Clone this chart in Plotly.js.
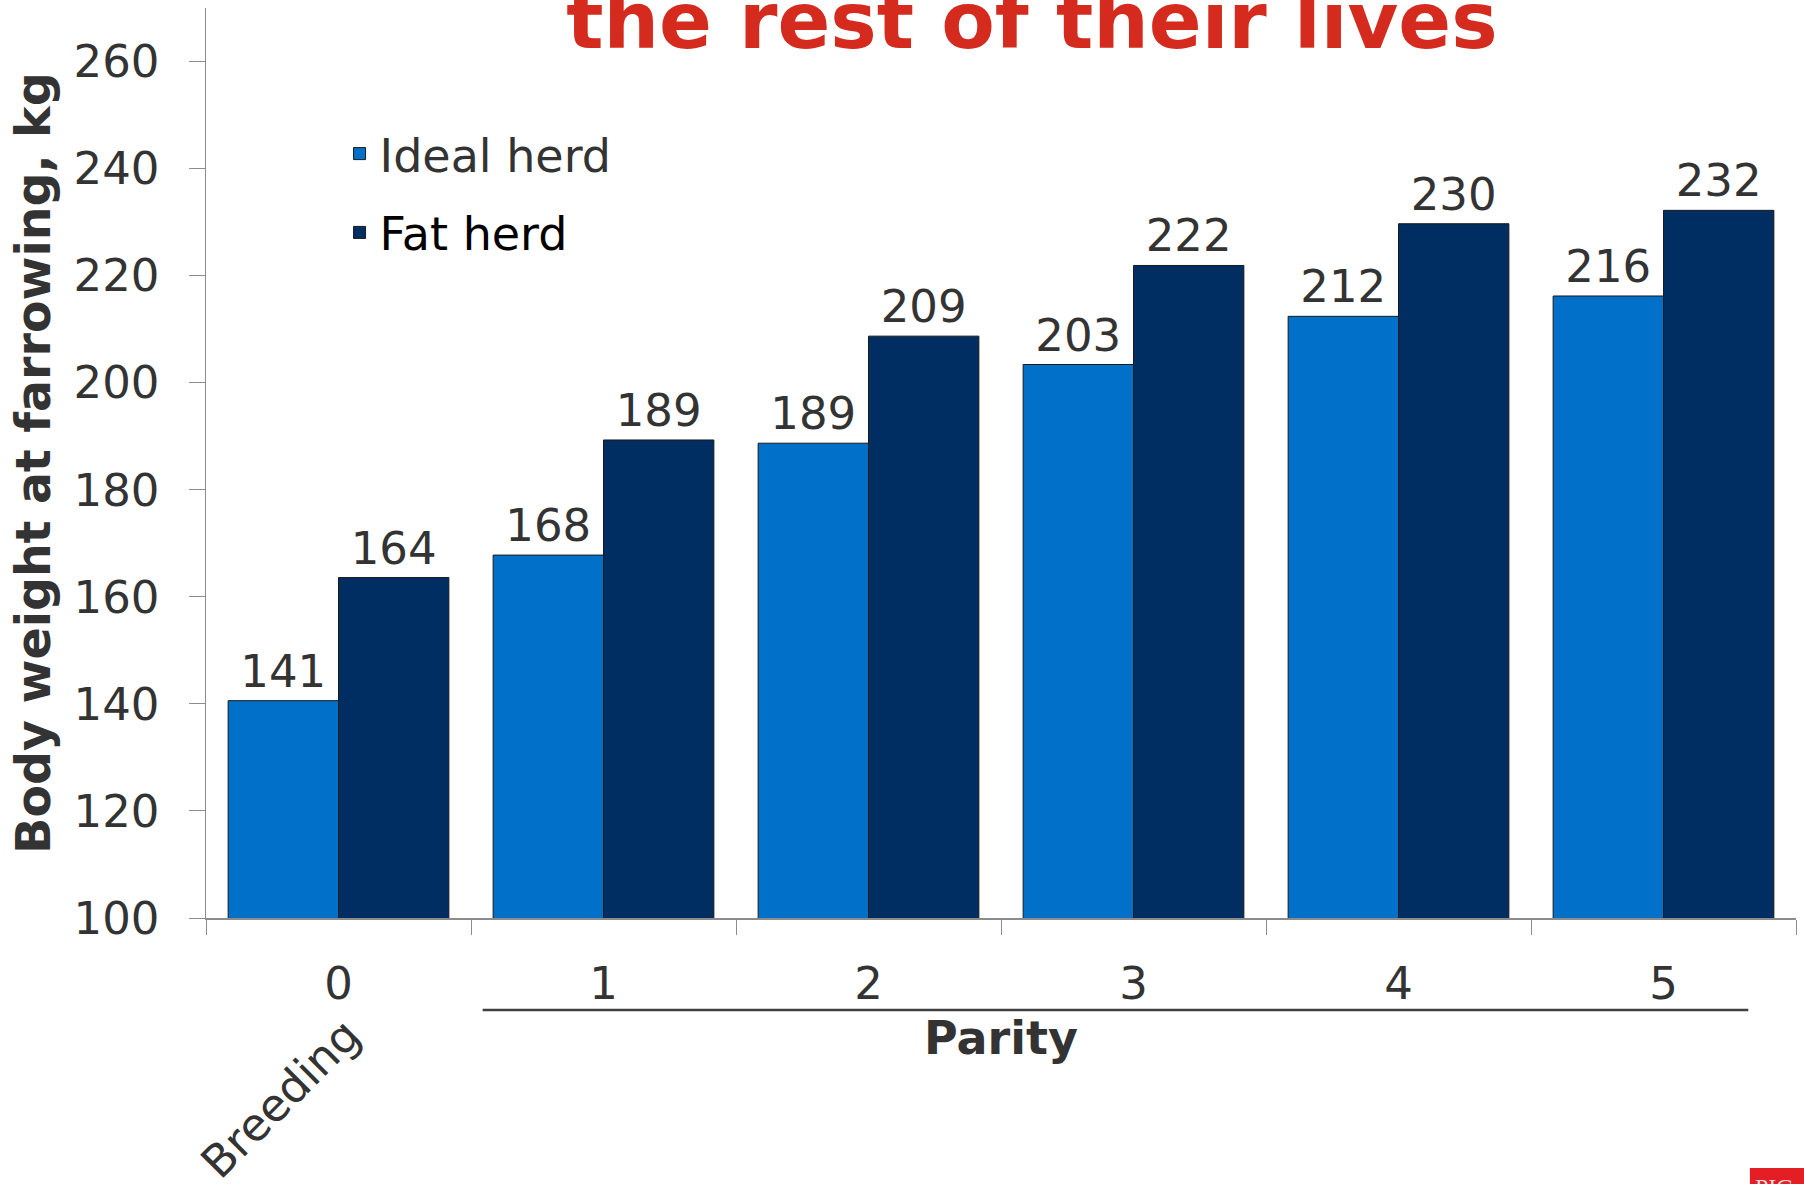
<!DOCTYPE html>
<html>
<head>
<meta charset="utf-8">
<script src="https://cdn.plot.ly/plotly-3.0.1.min.js"></script>
<style>html,body{margin:0;padding:0;background:#fff;}#chart{width:1804px;height:1184px;}</style>
</head>
<body>
<div id="chart"></div>
<script>
const parity = ["0", "1", "2", "3", "4", "5"];
const idealHerd = [140.6, 167.8, 188.7, 203.4, 212.4, 216.2];
const fatHerd = [163.6, 189.3, 208.7, 221.9, 229.7, 232.2];
const seriesNames = ["Ideal herd", "Fat herd"];
const yTicks = [100, 120, 140, 160, 180, 200, 220, 240, 260];

const FONT = "DejaVu Sans, Verdana, sans-serif";

const traces = [
  {
    type: "bar", x: parity, y: idealHerd, name: seriesNames[0], legendgroup: "a",
    marker: {color: "#0070C8", line: {color: "#1a1a1a", width: 1}},
    text: idealHerd.map(v => String(Math.round(v))), textposition: "outside",
    textfont: {family: FONT, size: 45, color: "#333333"}, cliponaxis: false,
    hoverinfo: "x+y+name"
  },
  {
    type: "bar", x: parity, y: fatHerd, name: '<span style="fill:#000">' + seriesNames[1] + '</span>', legendgroup: "b",
    marker: {color: "#002D62", line: {color: "#1a1a1a", width: 1}},
    text: fatHerd.map(v => String(Math.round(v))), textposition: "outside",
    textfont: {family: FONT, size: 45, color: "#333333"}, cliponaxis: false,
    hoverinfo: "x+y+name"
  }
];

const layout = {
  width: 1804, height: 1184,
  paper_bgcolor: "#ffffff", plot_bgcolor: "#ffffff",
  margin: {l: 206, r: 8, t: 8, b: 266},
  barmode: "group", bargap: 0.167, bargroupgap: 0,
  font: {family: FONT, color: "#333333"},
  title: {
    text: "<b>the rest of their lives</b>",
    font: {family: FONT, size: 78, color: "#D52B1E"},
    xref: "container", x: 0.572, xanchor: "center",
    yref: "container", y: 1 - 21/1184, yanchor: "middle"
  },
  showlegend: true,
  legend: {
    x: 0.084, y: 0.88, xanchor: "left", yanchor: "top",
    font: {family: FONT, size: 46, color: "#333333"},
    bgcolor: "rgba(0,0,0,0)", tracegroupgap: 16, traceorder: "grouped"
  },
  xaxis: {
    type: "category", showgrid: false, zeroline: false,
    showline: true, linecolor: "#8c8c8c", linewidth: 1.5,
    ticks: "outside", tickson: "boundaries", ticklen: 15, tickcolor: "#8c8c8c", tickwidth: 1,
    tickfont: {family: FONT, size: 45, color: "#333333"},
    ticklabelstandoff: 25,
    title: {text: "<b>Parity</b>", font: {family: FONT, size: 46, color: "#333333"}, standoff: 13}
  },
  yaxis: {
    range: [100, 270], tickvals: yTicks, showgrid: false, zeroline: false,
    showline: true, linecolor: "#8c8c8c", linewidth: 1.5,
    ticks: "outside", ticklen: 16, tickcolor: "#8c8c8c", tickwidth: 1,
    tickfont: {family: FONT, size: 45, color: "#333333"},
    ticklabelstandoff: 20,
    title: {text: "<b>Body weight at farrowing, kg</b>", font: {family: FONT, size: 47.5, color: "#333333"}, standoff: 8}
  },
  shapes: [
    {type: "line", xref: "paper", yref: "paper", x0: 0.174, x1: 0.970, y0: -0.101, y1: -0.101,
     line: {color: "#404040", width: 2.5}},
    {type: "rect", xref: "paper", yref: "paper", x0: 0.971, x1: 1.01, y0: -0.2747, y1: -0.31,
     fillcolor: "#E31E24", line: {width: 0}}
  ],
  annotations: [
    {text: "Breeding", xref: "paper", yref: "paper", x: 0.0472, y: -0.1989,
     xanchor: "center", yanchor: "middle", textangle: -45, showarrow: false,
     font: {family: FONT, size: 45, color: "#333333"}},
    {text: "PIG", xref: "paper", yref: "paper", x: 0.973, y: -0.279,
     xanchor: "left", yanchor: "top", showarrow: false,
     font: {family: "Liberation Serif, serif", size: 24, color: "#f4dede"}}
  ]
};

Plotly.newPlot("chart", traces, layout, {displayModeBar: false, staticPlot: true});
</script>
</body>
</html>
